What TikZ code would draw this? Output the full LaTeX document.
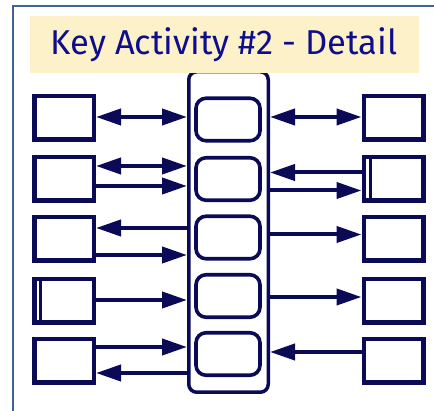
\documentclass[tikz,border=0pt]{standalone}
\usepackage{fontspec}
\setmainfont{Fira Sans}
\usetikzlibrary{arrows.meta}
\definecolor{ink}{RGB}{10,10,86}
\definecolor{framecol}{RGB}{64,96,160}
\definecolor{titlefill}{RGB}{253,241,201}
\definecolor{titleink}{RGB}{14,14,140}
\begin{document}
\begin{tikzpicture}[x=1pt,y=-1pt,
  sidebox/.style={draw=ink,line width=4.5pt,minimum width=59.5pt,minimum height=43.5pt,inner sep=0pt},
  slot/.style={draw=ink,line width=3.6pt,rounded corners=10pt,minimum width=64pt,minimum height=42.5pt,inner sep=0pt},
  link/.style={draw=ink,line width=4pt,-{Triangle[length=25pt,width=16pt]}},
  dlink/.style={draw=ink,line width=4pt,{Triangle[length=25pt,width=16pt]}-{Triangle[length=25pt,width=16pt]}},
  rlink/.style={draw=ink,line width=4pt,{Triangle[length=25pt,width=16pt]}-}]
\useasboundingbox (0,0) rectangle (434,411);

% outer frame
\draw[framecol,line width=2.5pt] (13,420) -- (13,6) -- (440,6);

% central spine with its slots
\node[draw=ink,line width=3.5pt,rounded corners=8pt,minimum width=79.5pt,minimum height=320.5pt,inner sep=0pt] (spine) at (228.5,232) {};
\foreach \i/\yy in {1/119.5,2/179,3/237.5,4/296,5/354}
  \node[slot] (C\i) at (228,\yy) {};

% title banner
\node[fill=titlefill,minimum width=389pt,minimum height=57pt,inner sep=0pt,
      text=titleink,font=\fontsize{34.5}{36}\selectfont] (title) at (224,44.5) {Key Activity \#2 - Detail};

% side boxes
\foreach \i/\yy in {1/118,2/179,3/239,4/301,5/361}{
  \node[sidebox] (L\i) at (64,\yy) {};
  \node[sidebox] (R\i) at (393.5,\yy) {};
}
\draw[ink,line width=3pt] ([xshift=8pt]L4.north west) -- ([xshift=8pt]L4.south west);
\draw[ink,line width=3pt] ([xshift=9pt]R2.north west) -- ([xshift=9pt]R2.south west);

% row 1
\path[dlink] ([yshift=1pt]L1.east) -- ([yshift=1pt]L1.east -| spine.west);
\path[dlink] ([yshift=1pt]R1.west -| spine.east) -- ([yshift=1pt]R1.west);
% row 2
\path[dlink] ([yshift=13pt]L2.east) -- ([yshift=13pt]L2.east -| spine.west);
\path[link]  ([yshift=-7pt]L2.east) -- ([yshift=-7pt]L2.east -| spine.west);
\path[rlink] ([yshift=6.5pt]R2.west -| spine.east) -- ([yshift=6.5pt]R2.west);
\path[link]  ([yshift=-11.5pt]R2.west -| spine.east) -- ([yshift=-11.5pt]R2.west);
% row 3
\path[rlink] ([yshift=11pt]L3.east) -- ([yshift=11pt]L3.east -| spine.west);
\path[link]  ([yshift=-16pt]L3.east) -- ([yshift=-16pt]L3.east -| spine.west);
\path[link]  ([yshift=4.5pt]R3.west -| spine.east) -- ([yshift=4.5pt]R3.west);
% row 4
\path[link]  ([yshift=1pt]L4.east) -- ([yshift=1pt]L4.east -| spine.west);
\path[link]  ([yshift=4pt]R4.west -| spine.east) -- ([yshift=4pt]R4.west);
% row 5
\path[link]  ([yshift=14pt]L5.east) -- ([yshift=14pt]L5.east -| spine.west);
\path[rlink] ([yshift=-12pt]L5.east) -- ([yshift=-12pt]L5.east -| spine.west);
\path[rlink] ([yshift=9pt]R5.west -| spine.east) -- ([yshift=9pt]R5.west);
\end{tikzpicture}
\end{document}
